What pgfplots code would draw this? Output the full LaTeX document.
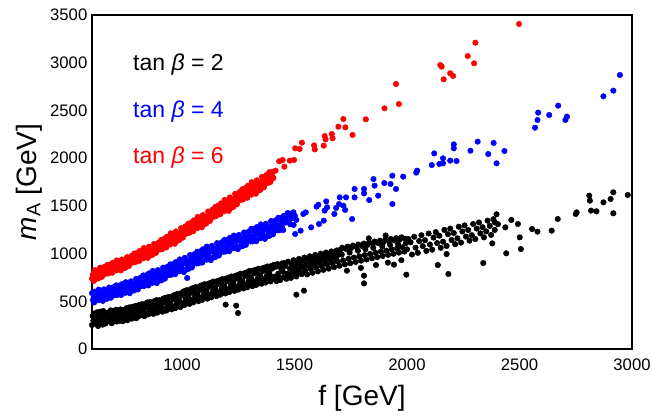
\documentclass[border=0pt]{standalone}
\usepackage{fontspec}
\setmainfont{Liberation Sans}
\usepackage{pgfplots}
\pgfplotsset{compat=1.18}
\begin{document}
\begin{tikzpicture}
\useasboundingbox (-69pt,-51.75pt) rectangle (420pt,261.75pt);
\begin{axis}[
  at={(0,0)}, anchor=south west,
  scale only axis, width=405pt, height=250.5pt,
  xmin=600, xmax=3000, ymin=0, ymax=3500,
  xtick={1000,1500,2000,2500,3000},
  ytick={0,500,1000,1500,2000,2500,3000,3500},
  major tick length=0pt,
  axis line style={line width=1.5pt},
  tick label style={font=\fontsize{12.5}{14}\selectfont},
  xticklabel style={yshift=-4pt},
  /pgf/number format/assume math mode=true,
  /pgf/number format/1000 sep={},
  xlabel={f [GeV]}, ylabel={{\itshape m}\textsubscript{A} [GeV]},
  label style={font=\fontsize{21}{24}\selectfont},
  xlabel style={at={(axis description cs:0.5,-0.1467)},anchor=center},
  ylabel style={at={(axis description cs:-0.1167,0.5)},anchor=center},
]
% tan beta = 2 (black)
\addplot[only marks, mark=*, mark size=2.05pt, black] coordinates {
(600,251) (603,347) (606,298) (610,372) (614,268) (617,320) (620,289) (623,385) (627,241)
(630,336) (633,262) (637,391) (640,310) (643,365) (647,255) (650,398) (653,281) (657,342)
(660,267) (664,356) (667,305) (670,381) (673,292) (677,329) (680,318) (683,405) (687,270)
(690,349) (693,284) (697,396) (700,302) (703,374) (707,411) (710,288) (714,339) (717,398)
(720,361) (723,296) (727,415) (730,322) (733,388) (737,291) (740,405) (744,310) (747,356)
(750,339) (753,428) (757,301) (760,380) (763,315) (767,437) (770,352) (774,411) (777,318)
(780,441) (783,330) (787,389) (790,366) (793,452) (797,322) (800,401) (803,337) (807,459)
(810,347) (814,428) (817,381) (820,469) (823,356) (827,412) (830,391) (833,345) (837,476)
(840,437) (843,370) (847,489) (850,362) (854,455) (857,405) (860,492) (863,382) (867,431)
(870,418) (873,368) (877,501) (880,459) (883,396) (887,512) (890,381) (894,477) (897,428)
(900,512) (903,403) (907,456) (910,441) (913,391) (917,528) (920,489) (923,418) (927,537)
(930,402) (934,512) (937,455) (940,545) (943,430) (947,481) (950,469) (953,415) (957,553)
(960,523) (963,445) (967,566) (970,428) (974,541) (977,489) (980,578) (983,461) (987,511)
(990,497) (993,440) (997,586) (1000,560) (1003,478) (1007,603) (1010,459) (1014,582) (1017,521)
(1020,616) (1023,498) (1027,553) (1030,531) (1033,472) (1037,625) (1040,590) (1043,511) (1047,637)
(1050,488) (1054,603) (1057,549) (1060,648) (1063,525) (1067,582) (1070,562) (1073,501) (1077,655)
(1080,621) (1083,538) (1087,667) (1090,515) (1094,634) (1097,578) (1100,679) (1103,551) (1107,608)
(1110,592) (1113,528) (1117,684) (1120,651) (1123,565) (1127,693) (1130,542) (1134,662) (1137,604)
(1140,707) (1143,578) (1147,635) (1150,619) (1153,555) (1157,711) (1160,680) (1163,592) (1167,720)
(1170,569) (1174,690) (1177,633) (1180,733) (1183,605) (1187,662) (1190,648) (1193,582) (1197,738)
(1200,709) (1203,619) (1207,747) (1210,596) (1214,718) (1217,661) (1220,760) (1223,632) (1227,690)
(1230,675) (1233,609) (1237,766) (1240,737) (1243,646) (1247,775) (1250,622) (1254,745) (1257,688)
(1260,789) (1263,659) (1267,717) (1270,702) (1273,634) (1277,793) (1280,765) (1283,672) (1287,803)
(1290,647) (1294,772) (1297,715) (1300,818) (1303,684) (1307,744) (1310,729) (1313,659) (1317,822)
(1320,792) (1323,697) (1327,830) (1330,671) (1334,798) (1337,741) (1340,841) (1343,709) (1347,770)
(1350,754) (1353,684) (1357,846) (1360,817) (1363,722) (1367,853) (1370,696) (1374,824) (1377,766)
(1380,865) (1383,734) (1387,795) (1390,779) (1393,708) (1397,870)
(1194,465) (1241,454) (1249,377)
(1400,842) (1404,731) (1408,882) (1412,758) (1416,861) (1420,712) (1424,889) (1428,790) (1432,741)
(1436,722) (1440,846) (1444,897) (1448,811) (1452,752) (1456,902) (1460,868) (1464,736) (1468,790)
(1472,915) (1476,771) (1480,842) (1484,745) (1488,883) (1492,808) (1496,930) (1500,792) (1504,857)
(1508,760) (1512,904) (1516,829) (1520,944) (1524,801) (1528,873) (1532,784) (1536,925) (1540,852)
(1544,958) (1548,822) (1552,889) (1556,781) (1560,941) (1564,870) (1568,972) (1572,838) (1576,907)
(1580,799) (1584,955) (1588,886) (1592,986) (1596,855) (1600,924) (1604,813) (1608,967) (1612,902)
(1616,999) (1620,870) (1624,941) (1628,829) (1632,983) (1636,918) (1640,1011) (1644,884) (1648,958)
(1652,842) (1656,996) (1660,933) (1664,1022) (1668,900) (1672,972) (1676,858) (1680,1010) (1684,948)
(1688,1033) (1692,915) (1696,987)
(1700,872) (1704,1041) (1712,1062) (1716,928) (1724,887) (1728,1049) (1736,1073) (1740,945)
(1748,899) (1752,1058) (1760,1084) (1764,958) (1772,912) (1776,1069) (1784,1095) (1788,971)
(1796,926) (1800,1079) (1808,1105) (1812,984) (1820,938) (1824,1090) (1832,1116) (1836,996)
(1844,951) (1848,1101) (1856,1126) (1860,1008) (1868,963) (1872,1111) (1880,1136) (1884,1020)
(1892,975) (1896,1121) (1904,1145) (1908,1031) (1916,987) (1920,1130) (1928,1154) (1932,1043)
(1940,998) (1944,1139) (1952,1162) (1956,1055) (1964,1010) (1968,1147) (1976,1170) (1980,1066)
(1988,1021) (1992,1155)
(1710,990) (1745,1010) (1782,1030) (1815,1045) (1850,1060) (1890,1075) (1925,1090) (1960,1100) (1995,1110)
(1733,820) (1795,850) (1862,880) (1915,905) (1975,930) (1905,1190) (1830,1160)
(2000,1045) (2006,1152) (2016,1118) (2022,990) (2032,1176) (2038,1062) (2048,1008) (2054,1131)
(2064,1192) (2070,1078) (2080,1140) (2086,1028) (2096,1210) (2102,1095) (2112,1041) (2118,1168)
(2128,1225) (2134,1110) (2144,1187) (2150,1060) (2160,1125) (2166,1248) (2176,1080) (2182,1203)
(2192,1262) (2198,1142) (2208,1215) (2214,1098) (2224,1160) (2230,1281) (2240,1115) (2246,1232)
(2256,1295) (2262,1178) (2272,1247) (2278,1135) (2288,1193) (2294,1310) (2304,1152) (2310,1262)
(2320,1326) (2326,1212) (2336,1276) (2342,1170) (2352,1232) (2358,1345) (2368,1290) (2374,1195)
(2384,1360) (2390,1248) (2398,1412) (2404,1308)
(1508,569) (1542,611) (1809,688) (1809,768) (1942,884) (1997,779) (2137,880) (2184,786)
(2339,901) (2379,1107) (2441,1003) (2176,995) (2501,1170) (2506,1048)
(2390,1327) (2437,1275) (2464,1352) (2493,1310) (2556,1257) (2580,1230) (2643,1240) (2670,1362)
(2750,1415) (2754,1432) (2810,1607) (2813,1554) (2818,1450) (2842,1443) (2873,1537) (2905,1572)
(2917,1642) (2917,1422) (2981,1614)
};
% tan beta = 4 (blue)
\addplot[only marks, mark=*, mark size=2.05pt, blue] coordinates {
(600,586) (604,514) (608,547) (610,488) (616,567) (613,602) (621,546) (624,592) (628,511)
(630,622) (636,544) (633,586) (641,530) (644,576) (648,504) (650,606) (656,524) (653,625)
(661,595) (664,559) (668,527) (670,547) (676,645) (673,586) (681,615) (684,537) (688,634)
(690,586) (696,648) (693,566) (701,608) (704,566) (708,667) (710,651) (716,605) (713,566)
(721,664) (724,592) (728,625) (730,566) (736,645) (733,680) (741,624) (744,670) (748,589)
(750,700) (756,622) (753,664) (761,611) (764,657) (768,585) (770,690) (776,608) (773,709)
(781,682) (784,646) (788,614) (790,636) (796,734) (793,675) (801,710) (804,624) (808,732)
(810,680) (816,748) (813,658) (821,707) (824,660) (828,771) (830,755) (836,705) (833,662)
(841,772) (844,693) (848,729) (850,666) (856,753) (853,792) (861,733) (864,783) (868,693)
(870,818) (876,732) (873,779) (881,719) (884,770) (888,691) (890,804) (896,714) (893,826)
(901,796) (904,756) (908,720) (910,744) (916,852) (913,787) (921,823) (924,737) (928,845)
(930,794) (936,862) (933,772) (941,823) (944,776) (948,887) (950,872) (956,822) (953,779)
(961,890) (964,811) (968,847) (970,785) (976,872) (973,911) (981,854) (984,904) (988,814)
(990,939) (996,853) (993,900) (1001,838) (1004,894) (1008,806) (1010,932) (1016,832) (1013,956)
(1021,923) (1024,879) (1028,839) (1030,865) (1036,985) (1033,913) (1041,951) (1044,855) (1048,975)
(1050,918) (1056,994) (1053,894) (1061,948) (1064,896) (1068,1020) (1070,1002) (1076,946) (1073,898)
(1081,1023) (1084,935) (1088,975) (1090,905) (1096,1001) (1093,1045) (1101,979) (1104,1035) (1108,935)
(1110,1073) (1116,977) (1113,1029) (1121,963) (1124,1019) (1128,931) (1130,1057) (1136,957) (1133,1081)
(1141,1047) (1144,1003) (1148,963) (1150,989) (1156,1109) (1153,1037) (1161,1075) (1164,979) (1168,1099)
(1170,1041) (1176,1117) (1173,1017) (1181,1071) (1184,1019) (1188,1143) (1190,1125) (1196,1069) (1193,1021)
(1201,1143) (1204,1055) (1208,1095) (1210,1025) (1216,1121) (1213,1165) (1221,1099) (1224,1155) (1228,1055)
(1230,1189) (1236,1093) (1233,1145) (1241,1078) (1244,1134) (1248,1046) (1250,1171) (1256,1071) (1253,1195)
(1261,1161) (1264,1117) (1268,1077) (1270,1102) (1276,1222) (1273,1150) (1281,1188) (1284,1092) (1288,1212)
(1290,1153) (1296,1229) (1293,1129) (1301,1182) (1304,1127) (1308,1259) (1310,1239) (1316,1179) (1313,1128)
(1321,1257) (1324,1163) (1328,1206) (1330,1129) (1336,1232) (1333,1278) (1341,1207) (1344,1267) (1348,1161)
(1350,1306) (1356,1204) (1353,1259) (1361,1188) (1364,1248) (1368,1154) (1370,1287) (1376,1180) (1373,1312)
(1381,1274) (1384,1227) (1388,1185) (1390,1213) (1396,1341) (1393,1264) (1401,1304) (1404,1202) (1408,1329)
(1410,1267) (1416,1348) (1413,1241) (1421,1298) (1424,1243) (1428,1375) (1430,1355) (1436,1295) (1433,1244)
(1441,1374) (1444,1280) (1448,1323) (1450,1247) (1456,1350) (1453,1396) (1461,1325) (1464,1385)
(1470,1425) (1476,1323) (1481,1307) (1484,1367) (1490,1407) (1496,1300) (1502,1395) (1508,1352)
(1023,744)
(1447,1362) (1471,1345) (1479,1415) (1495,1432) (1503,1205) (1527,1240) (1539,1415) (1550,1432)
(1574,1275) (1609,1310) (1630,1345) (1598,1492) (1606,1512) (1634,1450) (1645,1485) (1641,1547)
(1677,1415) (1685,1478) (1698,1519) (1701,1589) (1725,1457) (1717,1502) (1729,1589) (1756,1362)
(1767,1589) (1767,1677) (1809,1631) (1809,1677) (1832,1561) (1872,1607) (1856,1712) (1851,1781)
(1935,1519) (1951,1677) (1899,1739) (1927,1729) (1935,1816) (1983,1806) (2045,1869) (2041,1848)
(2946,2871) (2917,2707) (2873,2648) (2672,2550) (2632,2452) (2583,2477) (2580,2400) (2569,2319)
(2711,2435) (2704,2400) (2314,2173) (2385,2159) (2433,2075) (2361,2043) (2398,1946) (2282,2078)
(2208,2145) (2208,2103) (2220,1970) (2192,1974) (2160,1998) (2160,1946) (2144,1939) (2110,1928)
(2121,2050)
};
% tan beta = 6 (red)
\addplot[only marks, mark=*, mark size=2.05pt, red] coordinates {
(600,737) (604,779) (608,713) (610,809) (616,734) (613,827) (621,803) (624,770) (628,740)
(630,762) (636,852) (633,798) (641,828) (644,756) (648,846) (650,804) (656,861) (653,786)
(661,828) (664,789) (668,882) (670,870) (676,828) (673,792) (681,886) (684,820) (688,850)
(690,799) (696,871) (693,904) (701,856) (704,898) (708,823) (710,928) (716,856) (713,895)
(721,847) (724,889) (728,823) (730,920) (736,845) (733,938) (741,914) (744,881) (748,851)
(750,872) (756,962) (753,908) (761,941) (764,869) (768,959) (770,919) (776,976) (773,901)
(781,946) (784,907) (788,1000) (790,990) (796,948) (793,912) (801,1008) (804,942) (808,972)
(810,923) (816,995) (813,1028) (821,983) (824,1025) (828,950) (830,1058) (836,986) (833,1025)
(841,979) (844,1021) (848,955) (850,1054) (856,979) (853,1072) (861,1050) (864,1017) (868,987)
(870,1011) (876,1101) (873,1047) (881,1079) (884,1007) (888,1097) (890,1058) (896,1115) (893,1040)
(901,1085) (904,1043) (908,1144) (910,1132) (916,1086) (913,1047) (921,1154) (924,1082) (928,1115)
(930,1063) (936,1142) (933,1177) (941,1130) (944,1176) (948,1095) (950,1213) (956,1135) (953,1177)
(961,1129) (964,1175) (968,1103) (970,1213) (976,1131) (973,1232) (981,1210) (984,1174) (988,1142)
(990,1169) (996,1267) (993,1208) (1001,1245) (1004,1167) (1008,1264) (1010,1224) (1016,1286) (1013,1204)
(1021,1254) (1024,1212) (1028,1313) (1030,1304) (1036,1258) (1033,1219) (1041,1326) (1044,1254) (1048,1287)
(1050,1235) (1056,1314) (1053,1349) (1061,1301) (1064,1347) (1068,1266) (1070,1384) (1076,1306) (1073,1348)
(1081,1301) (1084,1347) (1088,1275) (1090,1385) (1096,1303) (1093,1404) (1101,1383) (1104,1347) (1108,1315)
(1110,1343) (1116,1441) (1113,1382) (1121,1420) (1124,1342) (1128,1439) (1130,1399) (1136,1461) (1133,1379)
(1141,1430) (1144,1388) (1148,1489) (1150,1481) (1156,1435) (1153,1396) (1161,1502) (1164,1430) (1168,1463)
(1170,1412) (1176,1491) (1173,1526) (1181,1479) (1184,1525) (1188,1444) (1190,1563) (1196,1485) (1193,1527)
(1201,1476) (1204,1527) (1208,1448) (1210,1567) (1216,1477) (1213,1589) (1221,1564) (1224,1524) (1228,1488)
(1230,1518) (1236,1626) (1233,1561) (1241,1601) (1244,1515) (1248,1623) (1250,1577) (1256,1645) (1253,1555)
(1261,1610) (1264,1563) (1268,1674) (1270,1664) (1276,1614) (1273,1571) (1281,1685) (1284,1606) (1288,1642)
(1290,1585) (1296,1672) (1293,1711) (1301,1658) (1304,1708) (1308,1618) (1310,1748) (1316,1662) (1313,1709)
(1321,1655) (1324,1706) (1328,1627) (1330,1746) (1336,1656) (1333,1768) (1341,1743) (1344,1703) (1348,1667)
(1350,1697) (1356,1805) (1353,1740) (1361,1780) (1364,1694) (1368,1802) (1370,1756) (1376,1824) (1373,1734)
(1381,1789) (1384,1742) (1388,1853) (1390,1843) (1396,1793) (1393,1750) (1401,1855) (1406,1790)
(2498,3406) (2304,3210) (2270,3070) (2298,2994) (2148,2976) (2154,2959) (2192,2889) (2205,2861)
(2163,2826) (1951,2777) (1964,2567) (1900,2522) (1817,2407) (1717,2410) (1695,2330) (1726,2323)
(1758,2243) (1634,2232) (1666,2253) (1669,2208) (1638,2197) (1630,2131) (1587,2134) (1590,2092)
(1533,2162) (1523,2096) (1503,2103) (1498,1981) (1479,1974) (1455,1911) (1447,1981) (1432,1967)
(1416,1869) (1403,1806)
};
\node[anchor=west, inner sep=0pt, font=\fontsize{17.25}{20}\selectfont, text=black] at (axis cs:782,2976) {tan {\itshape β} = 2};
\node[anchor=west, inner sep=0pt, font=\fontsize{17.25}{20}\selectfont, text=blue] at (axis cs:782,2484) {tan {\itshape β} = 4};
\node[anchor=west, inner sep=0pt, font=\fontsize{17.25}{20}\selectfont, text=red] at (axis cs:782,2001) {tan {\itshape β} = 6};
\end{axis}
\end{tikzpicture}
\end{document}
